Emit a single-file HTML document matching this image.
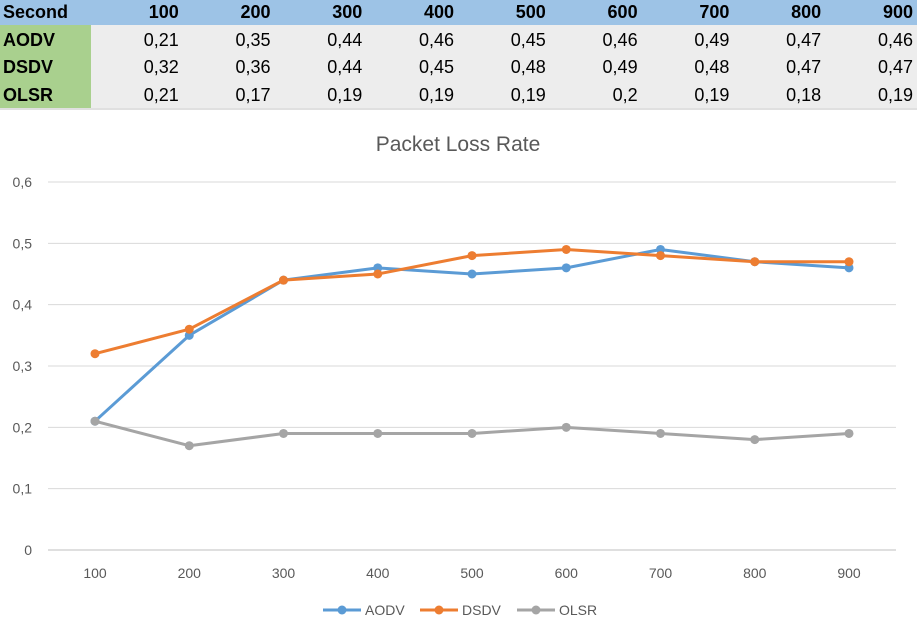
<!DOCTYPE html>
<html><head><meta charset="utf-8"><style>
body{margin:0;width:917px;height:639px;background:#fff;font-family:"Liberation Sans",sans-serif;overflow:hidden;position:relative}
table{position:absolute;left:0;top:0;border-collapse:collapse;width:917px;table-layout:fixed}
td{height:25px;padding:0 4px 0 0;text-align:right;font-size:18px;color:#000;background:#ededed;box-sizing:border-box}
tr.h td{background:#9dc3e6;font-weight:bold}
td.n{background:#a9d08e;font-weight:bold;text-align:left;padding-left:3px;width:91px}
tr.h td.n{background:#9dc3e6}
tr.r td{height:27px;padding-top:4px}
tr.last td{height:30px;padding-top:3px;border-bottom:2px solid #e0e0e0}
</style></head><body>
<table>
<tr class="h"><td class="n">Second</td><td>100</td><td>200</td><td>300</td><td>400</td><td>500</td><td>600</td><td>700</td><td>800</td><td>900</td></tr>
<tr class="r"><td class="n">AODV</td><td>0,21</td><td>0,35</td><td>0,44</td><td>0,46</td><td>0,45</td><td>0,46</td><td>0,49</td><td>0,47</td><td>0,46</td></tr>
<tr class="r"><td class="n">DSDV</td><td>0,32</td><td>0,36</td><td>0,44</td><td>0,45</td><td>0,48</td><td>0,49</td><td>0,48</td><td>0,47</td><td>0,47</td></tr>
<tr class="last"><td class="n">OLSR</td><td>0,21</td><td>0,17</td><td>0,19</td><td>0,19</td><td>0,19</td><td>0,2</td><td>0,19</td><td>0,18</td><td>0,19</td></tr>
</table>
<svg id="chart" width="917" height="639" style="position:absolute;left:0;top:0">
<text x="458" y="151" text-anchor="middle" font-size="21" fill="#595959" font-family="Liberation Sans, sans-serif">Packet Loss Rate</text>
</svg>
<script>
const categories=[100,200,300,400,500,600,700,800,900];
const aodv=[0.21,0.35,0.44,0.46,0.45,0.46,0.49,0.47,0.46];
const dsdv=[0.32,0.36,0.44,0.45,0.48,0.49,0.48,0.47,0.47];
const olsr=[0.21,0.17,0.19,0.19,0.19,0.2,0.19,0.18,0.19];
const yTicks=[0,0.1,0.2,0.3,0.4,0.5,0.6];
const yLabels=["0","0,1","0,2","0,3","0,4","0,5","0,6"];
const svg=document.getElementById('chart');
const NS='http://www.w3.org/2000/svg';
const x=i=>95+i*(849-95)/(categories.length-1);
const y=v=>550-v*(550-182)/0.6;
function mk(t,a){const e=document.createElementNS(NS,t);for(const k in a)e.setAttribute(k,a[k]);svg.appendChild(e);return e;}
yTicks.forEach((t,i)=>{
 const g=mk('line',{x1:48,x2:896,y1:y(t),y2:y(t),stroke:t===0?'#bfbfbf':'#d9d9d9','stroke-width':1});
 
 
 const l=mk('text',{x:32,y:y(t)+5,'text-anchor':'end','font-size':14,fill:'#595959','font-family':'Liberation Sans, sans-serif'});
 l.textContent=yLabels[i];
 
 
});
categories.forEach((c,i)=>{
 const l=mk('text',{x:x(i),y:578,'text-anchor':'middle','font-size':14,fill:'#595959','font-family':'Liberation Sans, sans-serif'});
 l.textContent=c;
 
 
});
const series=[["AODV",aodv,"#5b9bd5"],["DSDV",dsdv,"#ed7d31"],["OLSR",olsr,"#a5a5a5"]];
series.forEach(([n,d,c])=>{
 const p=mk('polyline',{points:d.map((v,i)=>x(i)+','+y(v)).join(' '),fill:'none',stroke:c,'stroke-width':3,'stroke-linejoin':'round'});
 
 
 d.forEach((v,i)=>{
  const m=mk('circle',{cx:x(i),cy:y(v),r:4.5,fill:c});
  
  
 });
});
const lx=[323,420,517];
series.forEach(([n,d,c],i)=>{
 const l=mk('line',{x1:lx[i],x2:lx[i]+38,y1:610,y2:610,stroke:c,'stroke-width':3});
 
 
 const m=mk('circle',{cx:lx[i]+19,cy:610,r:4.5,fill:c});
 
 
 const t=mk('text',{x:lx[i]+42,y:615,'font-size':14,fill:'#595959','font-family':'Liberation Sans, sans-serif'});
 t.textContent=n;
 
 
});
</script>
</body></html>
